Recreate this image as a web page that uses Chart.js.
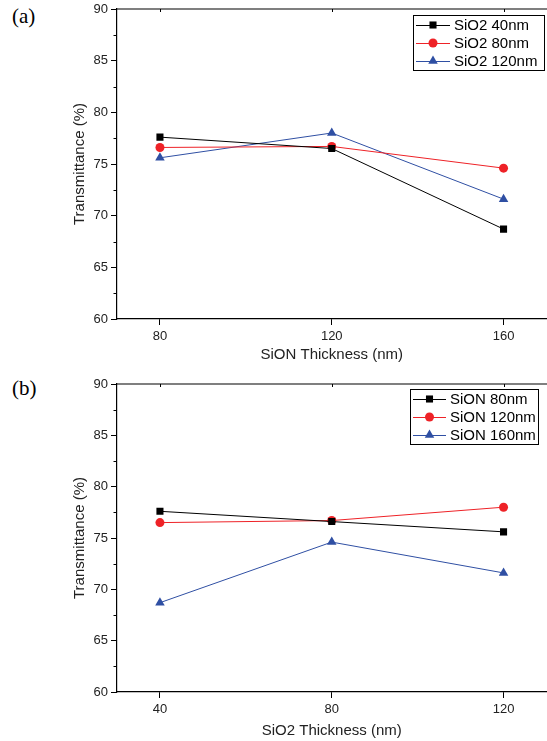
<!DOCTYPE html>
<html>
<head>
<meta charset="utf-8">
<script src="https://cdn.jsdelivr.net/npm/chart.js"></script>
<style>
    html, body {
        margin: 0;
        padding: 0;
        background: #fff;
    }
    #page {
        position: relative;
        width: 547px;
        height: 741px;
        overflow: hidden;
    }
    .panel {
        position: absolute;
        left: 0;
    }
    .tag {
        position: absolute;
        left: 12px;
        font-family: "Liberation Serif", "DejaVu Serif", serif;
        font-size: 21px;
        color: #000;
    }
</style>
</head>
<body>
<div id="page">
    <div class="tag" style="top:4px;">(a)</div>
    <div class="tag" style="top:376px;">(b)</div>

    <canvas id="chartA" class="panel" style="top:0;" width="552" height="372"></canvas>
    <canvas id="chartB" class="panel" style="top:372px;" width="552" height="369"></canvas>
</div>

<script>
    // panel (a): transmittance vs SiON thickness
    const sionThickness = [80, 120, 160];
    const sio2_40 = [77.6, 76.5, 68.7];
    const sio2_80 = [76.6, 76.7, 74.6];
    const sio2_120 = [75.6, 78.0, 71.6];

    // panel (b): transmittance vs SiO2 thickness
    const sio2Thickness = [40, 80, 120];
    const sion_80 = [77.6, 76.6, 75.6];
    const sion_120 = [76.5, 76.7, 78.0];
    const sion_160 = [68.7, 74.6, 71.6];

    const yTicks = [60, 65, 70, 75, 80, 85, 90];

    const BLACK = '#000000';
    const RED = '#ee2227';
    const BLUE = '#2f4fa3';
    const FONT = "'Liberation Sans', Arial, sans-serif";

    function series(label, xs, ys, color, style, radius) {
        return {
            label: label,
            data: xs.map((x, i) => ({ x: x, y: ys[i] })),
            borderColor: color,
            backgroundColor: color,
            borderWidth: 1,
            pointStyle: style,
            pointRadius: radius,
            pointBorderWidth: 0,
            pointBackgroundColor: color,
            tension: 0
        };
    }

    // top axis, minor ticks and legend (right axis falls outside the picture)
    const framePlugin = {
        id: 'frame',
        afterDraw(chart, args, opts) {
            const ctx = chart.ctx;
            const a = chart.chartArea;
            const xs = chart.scales.x;
            const ys = chart.scales.y;
            ctx.save();
            ctx.strokeStyle = '#000';
            ctx.lineWidth = 1.2;
            ctx.beginPath();
            ctx.moveTo(a.left, a.top);
            ctx.lineTo(chart.width, a.top);
            ctx.stroke();

            ctx.lineWidth = 1;
            ctx.beginPath();
            for (let v = 62.5; v < 90; v += 5) {
                const py = Math.round(ys.getPixelForValue(v)) + 0.5;
                ctx.moveTo(a.left - 3.5, py);
                ctx.lineTo(a.left, py);
            }
            xs.ticks.forEach(t => {
                const px = Math.round(xs.getPixelForValue(t.value)) + 0.5;
                ctx.moveTo(px, a.top);
                ctx.lineTo(px, a.top + 3);
            });
            ctx.stroke();

            // legend
            const L = opts.box;
            ctx.lineWidth = 1;
            ctx.strokeStyle = '#000';
            ctx.strokeRect(L.x + 0.5, L.y + 0.5, L.w, L.h);
            ctx.font = '15px ' + FONT;
            ctx.textBaseline = 'middle';
            ctx.textAlign = 'left';
            chart.data.datasets.forEach((ds, i) => {
                const cy = L.y + L.row0 + i * L.step;
                ctx.strokeStyle = ds.borderColor;
                ctx.beginPath();
                ctx.moveTo(L.x + 3, cy + 0.5);
                ctx.lineTo(L.x + L.sample, cy + 0.5);
                ctx.stroke();
                ctx.fillStyle = ds.borderColor;
                Chart.helpers.drawPoint(ctx, {
                    pointStyle: ds.pointStyle,
                    radius: ds.pointRadius,
                    rotation: 0,
                    borderWidth: 0
                }, L.x + 3 + (L.sample - 3) / 2, cy);
                ctx.fillStyle = '#000';
                ctx.fillText(ds.label, L.x + L.sample + 4, cy + 1);
            });
            ctx.restore();
        }
    };

    function makeChart(id, cfg) {
        const canvasH = cfg.height;
        return new Chart(document.getElementById(id), {
            type: 'line',
            data: { datasets: cfg.datasets },
            options: {
                responsive: false,
                animation: false,
                layout: { padding: { top: cfg.plotTop, right: 4, bottom: 0, left: 0 } },
                plugins: {
                    legend: { display: false },
                    tooltip: { enabled: false },
                    frame: { box: cfg.legend }
                },
                scales: {
                    x: {
                        type: 'linear',
                        min: cfg.xMin,
                        max: cfg.xMax,
                        afterBuildTicks: s => { s.ticks = cfg.xTicks.map(v => ({ value: v })); },
                        afterFit: s => {
                            s.height = canvasH - cfg.plotBottom;
                            s.paddingLeft = 0;
                            s.paddingRight = 0;
                        },
                        border: { display: true, color: '#000', width: 1.2 },
                        grid: { display: true, drawOnChartArea: false, tickLength: 6, tickColor: '#000', tickWidth: 1 },
                        ticks: { color: '#222', font: { family: FONT, size: 13 }, padding: 4 },
                        title: {
                            display: true,
                            text: cfg.xTitle,
                            color: '#222',
                            font: { family: FONT, size: 15 },
                            padding: { top: 0, bottom: cfg.titlePad }
                        }
                    },
                    y: {
                        min: 60,
                        max: 90,
                        afterBuildTicks: s => { s.ticks = yTicks.map(v => ({ value: v })); },
                        afterFit: s => {
                            s.width = 117;
                            s.paddingTop = 0;
                            s.paddingBottom = 0;
                        },
                        border: { display: true, color: '#000', width: 1.2 },
                        grid: { display: true, drawOnChartArea: false, tickLength: 6, tickColor: '#000', tickWidth: 1 },
                        ticks: { color: '#222', font: { family: FONT, size: 13 }, padding: 3 },
                        title: {
                            display: true,
                            text: 'Transmittance (%)',
                            color: '#222',
                            font: { family: FONT, size: 15 },
                            padding: { top: 71, bottom: 0 }
                        }
                    }
                }
            },
            plugins: [framePlugin]
        });
    }

    makeChart('chartA', {
        height: 372,
        plotTop: 9,
        plotBottom: 319,
        xMin: 70, xMax: 170,
        xTicks: sionThickness,
        xTitle: 'SiON Thickness (nm)',
        titlePad: 8,
        legend: { x: 413, y: 15, w: 131, h: 55, row0: 10, step: 18, sample: 37 },
        datasets: [
            series('SiO2 40nm', sionThickness, sio2_40, BLACK, 'rect', 5),
            series('SiO2 80nm', sionThickness, sio2_80, RED, 'circle', 4.5),
            series('SiO2 120nm', sionThickness, sio2_120, BLUE, 'triangle', 5.5)
        ]
    });

    makeChart('chartB', {
        height: 369,
        plotTop: 12,
        plotBottom: 320,
        xMin: 30, xMax: 130,
        xTicks: sio2Thickness,
        xTitle: 'SiO2 Thickness (nm)',
        titlePad: 1,
        legend: { x: 410, y: 17, w: 128, h: 55, row0: 10, step: 18, sample: 36 },
        datasets: [
            series('SiON 80nm', sio2Thickness, sion_80, BLACK, 'rect', 5),
            series('SiON 120nm', sio2Thickness, sion_120, RED, 'circle', 4.5),
            series('SiON 160nm', sio2Thickness, sion_160, BLUE, 'triangle', 5.5)
        ]
    });
</script>
</body>
</html>
